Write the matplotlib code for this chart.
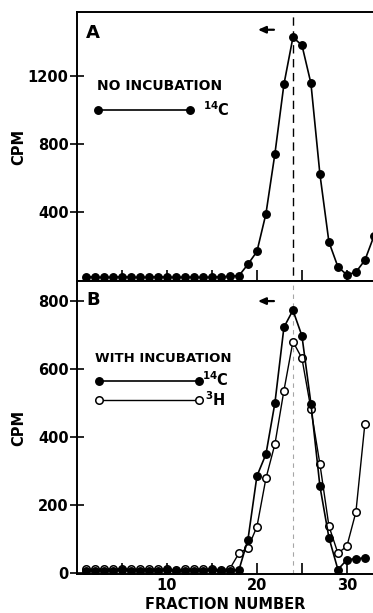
import numpy as np
import matplotlib
matplotlib.use("Agg")
import matplotlib.pyplot as plt

plt.rcParams.update({
    "font.family": "DejaVu Sans",
    "font.weight": "bold",
    "axes.labelweight": "bold",
    "mathtext.fontset": "dejavusans",
    "mathtext.default": "bf",
    "font.size": 10,
})

# ── data ──────────────────────────────────────────────────────────────────────
fractions_a = np.arange(1, 34)
cpm_a_14c = [22, 20, 18, 20, 22, 20, 18, 20, 22, 20, 18, 20, 20, 18, 20, 22, 24,
             28, 95, 170, 391, 744, 1150, 1425, 1380, 1156, 623, 226, 80, 33, 49,
             119, 260]

fractions_b = np.arange(1, 33)
cpm_b_14c = [6, 8, 8, 8, 10, 8, 8, 8, 8, 10, 6, 8, 8, 8, 10, 6, 8,
             10, 99, 286, 350, 501, 723, 773, 698, 499, 256, 105, 11, 40, 43, 45]
cpm_b_3h = [12, 12, 14, 12, 14, 12, 12, 14, 12, 12, 10, 12, 14, 12, 12, 10, 14,
            59, 75, 137, 279, 380, 537, 681, 632, 483, 321, 139, 59, 80, 180, 440]

yticks_a = [400, 800, 1200]
yticks_b = [0, 200, 400, 600, 800]
xticks_major = [10, 20, 30]
xticks_minor = [5, 15, 25]
peak_fraction = 24

W, H = 373, 613
fig = plt.figure(figsize=(W / 100, H / 100), dpi=100)

left = 77 / W
width = 1.0 - left
ax_a = fig.add_axes([left, 1 - 281 / H, width, 269 / H])
ax_b = fig.add_axes([left, 1 - 574 / H, width, 293 / H])

for ax in (ax_a, ax_b):
    ax.set_xlim(0, 32.9)
    ax.spines["right"].set_visible(False)
    for s in ("left", "bottom", "top"):
        ax.spines[s].set_linewidth(1.4)
    ax.set_xticks(xticks_major)
    ax.set_xticks(xticks_minor, minor=True)
    ax.tick_params(axis="x", which="both", direction="in", length=8, width=1.2)
    ax.tick_params(axis="y", direction="inout", length=10, width=1.2, pad=1,
                   labelsize=10.5)
    ax.set_ylabel("CPM", fontsize=10.5)
    ax.yaxis.set_label_coords(-0.17, 0.5)

# ── panel A ──────────────────────────────────────────────────────────────────
ax_a.set_ylim(-3, 1574)
ax_a.set_yticks(yticks_a)
ax_a.tick_params(axis="x", labelbottom=False)
ax_a.plot(fractions_a, cpm_a_14c, "-o", color="black", lw=1.2, ms=5.4,
          mfc="black", mec="black")
ax_a.axvline(peak_fraction, ymin=-0.08, ymax=1.0, color="black", lw=1.0,
             dashes=(6, 4), clip_on=False)
ax_a.annotate("", xy=(19.8, 1470), xytext=(22.2, 1470),
              arrowprops=dict(arrowstyle="-|>,head_length=0.45,head_width=0.2",
                              color="black", lw=1.6))
ax_a.text(1.0, 1450, "A", fontsize=13, fontweight="bold", va="center")
ax_a.text(2.2, 1140, "NO INCUBATION", fontsize=10, fontweight="bold", va="center")
ax_a.plot([2.3, 12.6], [1000, 1000], "-o", color="black", lw=1.2, ms=5.4)
ax_a.text(14.0, 1000, r"$^{14}$C", fontsize=10.5, fontweight="bold", va="center")

# ── panel B ──────────────────────────────────────────────────────────────────
ax_b.set_ylim(-2, 859)
ax_b.set_yticks(yticks_b)
ax_b.set_xlabel("FRACTION NUMBER", fontsize=10.5, labelpad=3)
ax_b.tick_params(axis="x", labelsize=10.5, pad=3)
ax_b.axvline(peak_fraction, color="0.65", lw=0.8, dashes=(4, 4))
ax_b.plot(fractions_b, cpm_b_3h, "-o", color="black", lw=1.0, ms=5.4,
          mfc="white", mec="black", mew=1.1, zorder=3)
ax_b.plot(fractions_b, cpm_b_14c, "-o", color="black", lw=1.2, ms=5.4,
          mfc="black", mec="black", zorder=4)
ax_b.annotate("", xy=(19.8, 800), xytext=(22.2, 800),
              arrowprops=dict(arrowstyle="-|>,head_length=0.45,head_width=0.2",
                              color="black", lw=1.6))
ax_b.text(1.0, 803, "B", fontsize=13, fontweight="bold", va="center")
ax_b.text(2.0, 632, "WITH INCUBATION", fontsize=9.5, fontweight="bold",
          va="center")
ax_b.plot([2.4, 13.6], [565, 565], "-o", color="black", lw=1.2, ms=5.4)
ax_b.plot([2.4, 13.6], [510, 510], "-o", color="black", lw=1.0, ms=5.4,
          mfc="white", mew=1.1)
ax_b.text(13.9, 568, r"$^{14}$C", fontsize=10.5, fontweight="bold", va="center")
ax_b.text(14.2, 510, r"$^{3}$H", fontsize=10.5, fontweight="bold", va="center")

fig.savefig("out.png", dpi=100)
